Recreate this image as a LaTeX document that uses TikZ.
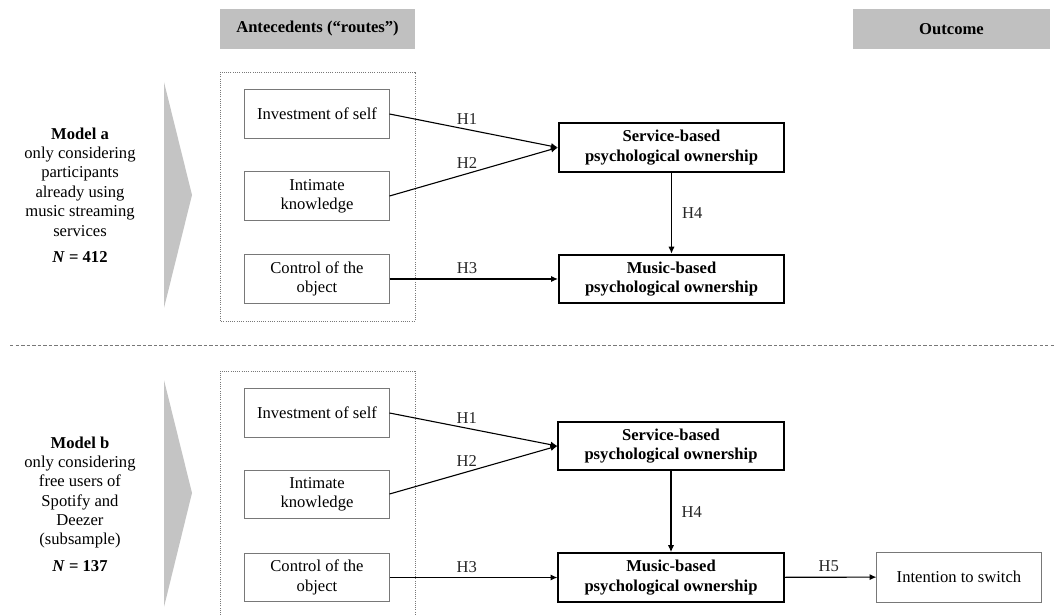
\documentclass[tikz,border=0pt]{standalone}
\usepackage{fontspec}
\setmainfont{Liberation Serif}
\definecolor{hdrgray}{RGB}{192,192,192}
\definecolor{chevgray}{RGB}{196,196,196}
\definecolor{boxgray}{RGB}{120,120,120}
\usetikzlibrary{arrows.meta,positioning}

\begin{document}
\begin{tikzpicture}[x=0.254mm, y=-0.254mm, font=\fontsize{12}{14}\selectfont]
    \tikzset{hdrbox/.style={rectangle, fill=hdrgray, minimum width=4.95cm,
      minimum height=1.02cm, font=\fontsize{12}{14}\selectfont\bfseries}}
    \tikzset{antbox/.style={rectangle, draw=boxgray, line width=0.7pt, fill=white,
      minimum width=3.66cm, minimum height=1.22cm, align=center, inner sep=2pt}}
    \tikzset{ownbox/.style={rectangle, draw=black, line width=1.4pt, fill=white,
      minimum width=5.72cm, minimum height=1.24cm, align=center, inner sep=2pt,
      font=\fontsize{12}{14}\selectfont\bfseries}}
    \tikzset{outbox/.style={rectangle, draw=boxgray, line width=0.7pt, fill=white,
      minimum width=4.17cm, minimum height=1.27cm, align=center}}
    \tikzset{hyparrow/.style={-{Latex[length=5pt, width=4.5pt]}, line width=0.8pt}}
    \tikzset{hyplabel/.style={font=\fontsize{12}{14}\selectfont, text=black!85}}
    \tikzset{routes/.style={densely dotted, draw=boxgray, line width=0.6pt}}

    \useasboundingbox (0,0) rectangle (1054,615);

    % Column headers
    \node[hdrbox] (anthdr) at (317.5,29) {Antecedents (``routes'')};
    \node[hdrbox, minimum width=5.0cm] (outhdr) at (951.5,29) {Outcome};

    % Model a panel
    \node[align=center] (modela) at (80,195)
      {\textbf{Model a}\\only considering\\participants\\already using\\music streaming\\services\\[5pt]
       \textbf{\textit{N} = 412}};
    \fill[chevgray] (164,82) -- (192,195) -- (164,308) -- cycle;
    \draw[routes] (220,72) rectangle (415,321);
    \node[antbox] (selfa) at (317,114) {Investment of self};
    \node[antbox] (knowa) at (317,196) {Intimate\\knowledge};
    \node[antbox] (ctrla) at (317,279) {Control of the\\object};
    \node[ownbox] (servicea) at (671.5,147.5) {Service-based\\psychological ownership};
    \node[ownbox] (musica) at (671.5,279) {Music-based\\psychological ownership};

    \draw[hyparrow] (selfa.east) -- node[hyplabel, pos=0.46, above] {H1} (servicea.west);
    \draw[hyparrow] (knowa.east) -- node[hyplabel, pos=0.46, above] {H2} (servicea.west);
    \draw[hyparrow] (ctrla.east) -- node[hyplabel, pos=0.46, above] {H3} (musica.west);
    \draw[hyparrow] (servicea) -- node[hyplabel, right=4pt] {H4} (musica);

    % Separator between the two models
    \draw[dashed, dash pattern=on 2.5pt off 1.5pt, draw=boxgray, line width=0.5pt]
      (10,345) -- (1054,345);

    % Model b panel
    \node[align=center] (modelb) at (80,504)
      {\textbf{Model b}\\only considering\\free users of\\Spotify and\\Deezer\\(subsample)\\[5pt]
       \textbf{\textit{N} = 137}};
    \fill[chevgray] (164,380) -- (192,493) -- (164,607) -- cycle;
    \draw[routes] (220,615) -- (220,371) -- (415,371) -- (415,615);
    \node[antbox] (selfb) at (317,413) {Investment of self};
    \node[antbox] (knowb) at (317,494) {Intimate\\knowledge};
    \node[antbox] (ctrlb) at (317,577.5) {Control of the\\object};
    \node[ownbox] (serviceb) at (671,446) {Service-based\\psychological ownership};
    \node[ownbox] (musicb) at (671,577.5) {Music-based\\psychological ownership};
    \node[outbox] (switch) at (959,577) {Intention to switch};

    \draw[hyparrow] (selfb.east) -- node[hyplabel, pos=0.46, above] {H1} (serviceb.west);
    \draw[hyparrow] (knowb.east) -- node[hyplabel, pos=0.46, above] {H2} (serviceb.west);
    \draw[hyparrow] (ctrlb.east) -- node[hyplabel, pos=0.46, above] {H3} (musicb.west);
    \draw[hyparrow] (serviceb) -- node[hyplabel, right=4pt] {H4} (musicb);
    \draw[hyparrow] (musicb) -- node[hyplabel, pos=0.48, above] {H5} (switch);
  \end{tikzpicture}
\end{document}
